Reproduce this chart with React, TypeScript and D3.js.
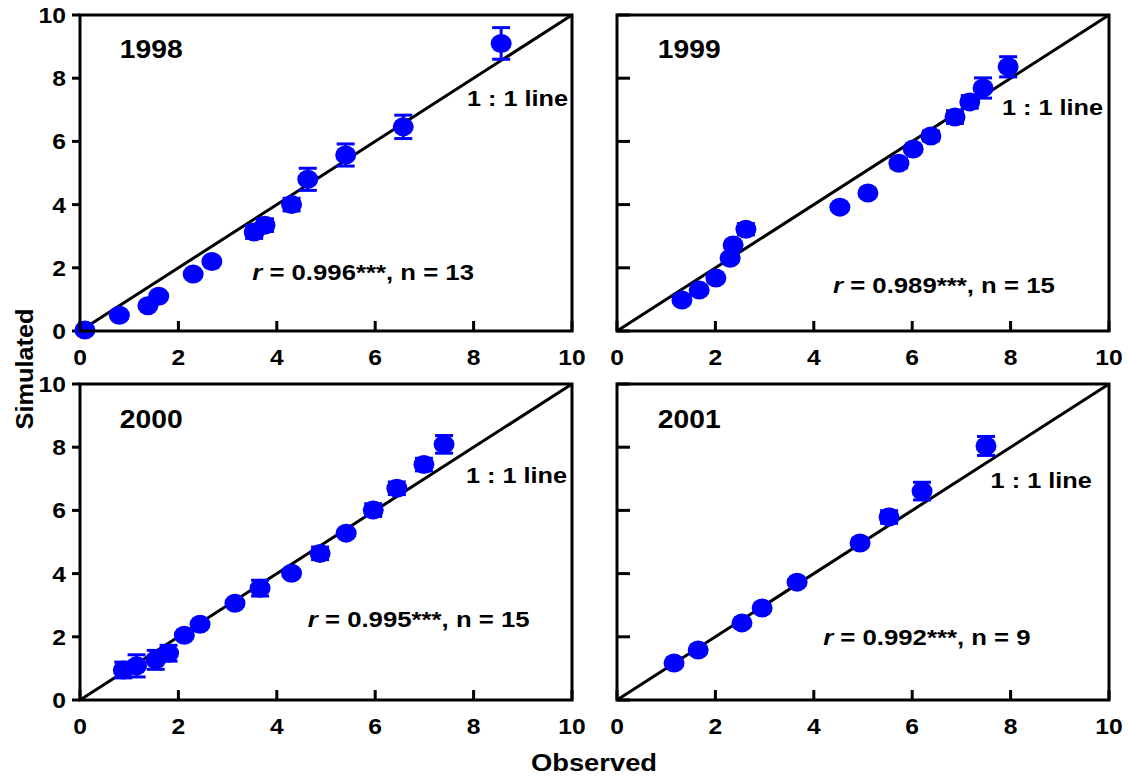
import React from 'react';
import * as d3 from 'd3';

// observed vs simulated, one panel per year
const years = ['1998', '1999', '2000', '2001'];

const obs1998 = [0.1, 0.8, 1.38, 1.6, 2.3, 2.68, 3.54, 3.76, 4.3, 4.63, 5.4, 6.57, 8.56];
const sim1998 = [0.03, 0.5, 0.8, 1.1, 1.8, 2.2, 3.13, 3.35, 4.0, 4.8, 5.57, 6.46, 9.1];
const err1998 = [0, 0, 0, 0, 0, 0, 0.2, 0.2, 0.2, 0.35, 0.35, 0.37, 0.5];

const obs1999 = [1.32, 1.67, 2.01, 2.3, 2.36, 2.62, 4.53, 5.1, 5.73, 6.02, 6.38, 6.87, 7.17, 7.44, 7.95];
const sim1999 = [0.98, 1.3, 1.68, 2.3, 2.72, 3.22, 3.92, 4.37, 5.31, 5.76, 6.17, 6.77, 7.25, 7.69, 8.36];
const err1999 = [0, 0, 0, 0, 0, 0.18, 0, 0, 0.15, 0.1, 0.15, 0.2, 0.2, 0.32, 0.32];

const obs2000 = [0.88, 1.15, 1.54, 1.8, 2.12, 2.44, 3.15, 3.66, 4.3, 4.88, 5.41, 5.96, 6.44, 6.99, 7.4];
const sim2000 = [0.95, 1.08, 1.27, 1.48, 2.05, 2.4, 3.06, 3.54, 4.01, 4.64, 5.28, 6.01, 6.7, 7.45, 8.09];
const err2000 = [0.25, 0.35, 0.3, 0.25, 0, 0, 0, 0.25, 0.1, 0.2, 0.1, 0.2, 0.2, 0.2, 0.28];

const obs2001 = [1.16, 1.65, 2.54, 2.95, 3.66, 4.94, 5.53, 6.2, 7.5];
const sim2001 = [1.17, 1.58, 2.44, 2.91, 3.73, 4.97, 5.79, 6.61, 8.04];
const err2001 = [0, 0, 0, 0, 0, 0.12, 0.2, 0.28, 0.3];

const rValues = ['0.996', '0.989', '0.995', '0.992'];
const nValues = [13, 15, 15, 9];
const tickValues = [0, 2, 4, 6, 8, 10];

const seriesByPanel = [
  { obs: obs1998, sim: sim1998, err: err1998 },
  { obs: obs1999, sim: sim1999, err: err1999 },
  { obs: obs2000, sim: sim2000, err: err2000 },
  { obs: obs2001, sim: sim2001, err: err2001 },
];

// layout (pixels / data-unit anchors for annotations)
const W = 1128;
const H = 778;
const panelW = 492;
const panelH = 316;
const panelOrigins = [
  [80, 15],
  [617, 15],
  [80, 384],
  [617, 384],
];
const yearAt = [[0.81, 8.64], [0.83, 8.64], [0.81, 8.6], [0.83, 8.6]];
const lineLabelAt = [[9.92, 7.12], [9.88, 6.84], [9.9, 6.87], [9.65, 6.71]];
const statAt = [[3.5, 1.6], [4.39, 1.2], [4.63, 2.31], [4.19, 1.74]];

const FONT = '"Liberation Sans", Arial, Helvetica, sans-serif';
const BLUE = '#0000ff';

// text drawn a bit wider than normal, like the source figure
function Txt({ x, y, size, sx = 1.13, anchor = 'start', rotate = 0, children }: any) {
  return (
    <text
      transform={`translate(${x},${y}) rotate(${rotate}) scale(${sx},1)`}
      textAnchor={anchor}
      fontFamily={FONT}
      fontWeight="bold"
      fontSize={size}
      fill="#000"
    >
      {children}
    </text>
  );
}

function Panel({ idx }: { idx: number }) {
  const [left, top] = panelOrigins[idx];
  const x = d3.scaleLinear().domain([0, 10]).range([left, left + panelW]);
  const y = d3.scaleLinear().domain([0, 10]).range([top + panelH, top]);
  const s = seriesByPanel[idx];
  const leftCol = idx % 2 === 0;
  const bottom = top + panelH;

  return (
    <g>
      {/* x ticks, inward */}
      {tickValues.map(t => (
        <line key={'xt' + t} x1={x(t)} x2={x(t)} y1={bottom} y2={bottom - 10} stroke="#000" strokeWidth={3} />
      ))}
      {/* y ticks: outward on the left column, inward on the right */}
      {tickValues.map(t => (
        <line
          key={'yt' + t}
          x1={leftCol ? left - 8 : left}
          x2={leftCol ? left : left + 13}
          y1={y(t)}
          y2={y(t)}
          stroke="#000"
          strokeWidth={3}
        />
      ))}
      {tickValues.map(t => (
        <Txt key={'xl' + t} x={x(t)} y={bottom + 34} size={22} sx={1.12} anchor="middle">{t}</Txt>
      ))}
      {leftCol && tickValues.map(t => (
        <Txt key={'yl' + t} x={left - 14} y={y(t) + 8} size={22} sx={1.12} anchor="end">{t}</Txt>
      ))}

      {/* 1:1 line */}
      <line x1={x(0)} y1={y(0)} x2={x(10)} y2={y(10)} stroke="#000" strokeWidth={3} />

      {/* error bars */}
      {s.obs.map((o, i) => s.err[i] > 0 && (
        <g key={'e' + i} stroke={BLUE} strokeWidth={3}>
          <line x1={x(o)} x2={x(o)} y1={y(s.sim[i] - s.err[i])} y2={y(s.sim[i] + s.err[i])} />
          <line x1={x(o) - 9} x2={x(o) + 9} y1={y(s.sim[i] - s.err[i])} y2={y(s.sim[i] - s.err[i])} />
          <line x1={x(o) - 9} x2={x(o) + 9} y1={y(s.sim[i] + s.err[i])} y2={y(s.sim[i] + s.err[i])} />
        </g>
      ))}
      {s.obs.map((o, i) => (
        <ellipse key={'p' + i} cx={x(o)} cy={y(s.sim[i])} rx={10.5} ry={9.5} fill={BLUE} />
      ))}

      <rect x={left} y={top} width={panelW} height={panelH} fill="none" stroke="#000" strokeWidth={3} />

      <Txt x={x(yearAt[idx][0])} y={y(yearAt[idx][1])} size={25} sx={1.13}>{years[idx]}</Txt>
      <Txt x={x(lineLabelAt[idx][0])} y={y(lineLabelAt[idx][1])} size={22} sx={1.15} anchor="end">1 : 1 line</Txt>
      <Txt x={x(statAt[idx][0])} y={y(statAt[idx][1])} size={22} sx={1.17}>
        <tspan fontStyle="italic">r</tspan>{` = ${rValues[idx]}***, n = ${nValues[idx]}`}
      </Txt>
    </g>
  );
}

export default function App() {
  return (
    <svg width={W} height={H} style={{ position: 'absolute', left: 0, top: 0, background: '#fff' }}>
      {years.map((_, i) => <Panel key={i} idx={i} />)}
      <Txt x={594} y={771} size={24} sx={1.14} anchor="middle">Observed</Txt>
      <Txt x={33} y={369} size={23} sx={1.1} anchor="middle" rotate={-90}>Simulated</Txt>
    </svg>
  );
}
